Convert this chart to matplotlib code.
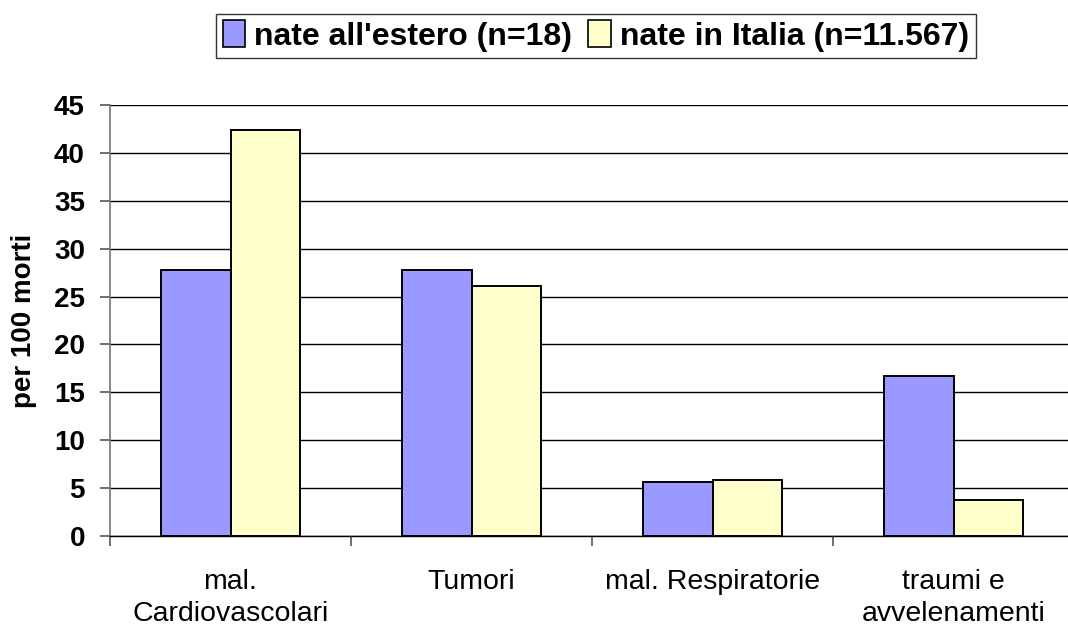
import matplotlib
matplotlib.use("Agg")
import matplotlib.pyplot as plt
import numpy as np
from matplotlib.patches import Patch

plt.rcParams["font.family"] = ["Liberation Sans", "DejaVu Sans"]

CATEGORIES = ["mal.\nCardiovascolari", "Tumori", "mal. Respiratorie", "traumi e\navvelenamenti"]
SERIES_NAMES = ["nate all'estero (n=18)", "nate in Italia (n=11.567)"]
ESTERO = [27.8, 27.8, 5.6, 16.7]
ITALIA = [42.4, 26.1, 5.85, 3.8]
Y_TICKS = [0, 5, 10, 15, 20, 25, 30, 35, 40, 45]

BLUE = "#9999ff"
YELLOW = "#ffffcc"

fig = plt.figure(figsize=(10.68, 6.26), dpi=100)
ax = fig.add_axes([110 / 1068, 1 - 536 / 626, (1074 - 110) / 1068, (536 - 105) / 626])

x = np.arange(len(CATEGORIES))
w = 0.29
ax.bar(x - w / 2, ESTERO, w, color=BLUE, edgecolor="black", linewidth=1.4, zorder=3)
ax.bar(x + w / 2, ITALIA, w, color=YELLOW, edgecolor="black", linewidth=1.4, zorder=3)

ax.set_xlim(-0.5, len(CATEGORIES) - 0.5)
ax.set_ylim(0, 45)
ax.set_yticks(Y_TICKS)
ax.set_yticklabels([str(t) for t in Y_TICKS], fontsize=20, fontweight="bold")
ax.yaxis.grid(True, color="black", linewidth=1.0, zorder=0)
ax.set_axisbelow(True)

ax.set_xticks(x)
ax.set_xticklabels(CATEGORIES, fontsize=20.5, linespacing=1.3)
ax.set_xticks(np.arange(len(CATEGORIES)) - 0.5, minor=True)
ax.tick_params(axis="x", which="major", length=0, pad=24)
ax.tick_params(axis="x", which="minor", length=7, width=1.2, color="#555555", direction="out")
ax.tick_params(axis="y", length=7, width=1.2, color="#555555", direction="out", pad=11)

ax.set_ylabel("per 100 morti", fontsize=20, fontweight="bold", labelpad=12)

for side in ["top", "right"]:
    ax.spines[side].set_visible(False)
ax.spines["left"].set_color("#777777")
ax.spines["left"].set_linewidth(1.2)
ax.spines["bottom"].set_color("black")
ax.spines["bottom"].set_linewidth(1.0)

handles = [Patch(facecolor=BLUE, edgecolor="black", linewidth=1.2),
           Patch(facecolor=YELLOW, edgecolor="black", linewidth=1.2)]
leg = fig.legend(handles, SERIES_NAMES, loc="center", bbox_to_anchor=(596 / 1068, 1 - 36 / 626),
                 ncol=2, frameon=True, fancybox=False, edgecolor="black",
                 prop={"size": 23, "weight": "bold"}, handlelength=0.7, handleheight=0.9,
                 handletextpad=0.3, columnspacing=0.5, borderpad=0.2, borderaxespad=0)
leg.get_frame().set_linewidth(1.0)

fig.savefig("out.png", dpi=100, facecolor="white")
